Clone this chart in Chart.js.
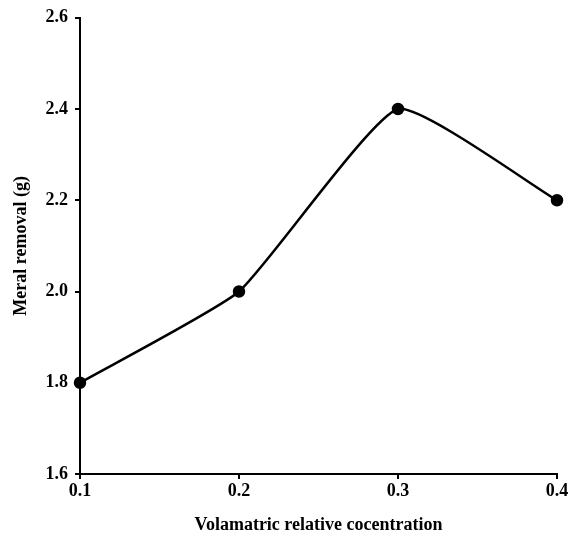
<!DOCTYPE html>
<html>
<head>
<meta charset="utf-8">
<script src="https://cdn.jsdelivr.net/npm/chart.js@4/dist/chart.umd.min.js"></script>
<style>
  html, body { margin: 0; padding: 0; background: #fff; }
  #wrap { width: 573px; height: 540px; }
</style>
</head>
<body>
<div id="wrap"><canvas id="chart-container" width="573" height="540"></canvas></div>
<script>
const concentration = [0.1, 0.2, 0.3, 0.4];
const removal = [1.8, 2.0, 2.4, 2.2];
const xTicks = [0.1, 0.2, 0.3, 0.4];
const yTicks = [1.6, 1.8, 2.0, 2.2, 2.4, 2.6];

(function () {
  const ctx = document.getElementById('chart-container').getContext('2d');
  const tickFont = { family: 'Liberation Serif', size: 18, weight: 'bold' };
  const titleFont = { family: 'Liberation Serif', size: 18, weight: 'bold' };

  new Chart(ctx, {
    type: 'line',
    data: {
      datasets: [{
        data: concentration.map((x, i) => ({ x: x, y: removal[i] })),
        borderColor: '#000',
        backgroundColor: '#000',
        borderWidth: 2.5,
        pointRadius: 5,
        tension: 0.15,
        clip: false,
        fill: false
      }]
    },
    options: {
      responsive: false,
      animation: false,
      layout: { padding: { left: 0, top: 15, right: 16, bottom: 0 } },
      plugins: { legend: { display: false }, tooltip: { enabled: false } },
      scales: {
        x: {
          type: 'linear',
          min: 0.1,
          max: 0.4,
          afterBuildTicks: s => { s.ticks = xTicks.map(v => ({ value: v })); },
          afterFit: s => { s.height = 66; },
          border: { display: true, color: '#000', width: 2 },
          grid: { drawOnChartArea: false, drawTicks: true, tickLength: 5, color: '#000', lineWidth: 2 },
          ticks: { color: '#000', font: tickFont, padding: 2, maxRotation: 0, callback: v => v.toFixed(1) },
          title: { display: true, text: 'Volamatric relative cocentration', color: '#000', font: titleFont, padding: { top: 10 } }
        },
        y: {
          min: 1.6,
          max: 2.6,
          afterBuildTicks: s => { s.ticks = yTicks.map(v => ({ value: v })); },
          afterFit: s => { s.width = 80; },
          border: { display: true, color: '#000', width: 2 },
          grid: { drawOnChartArea: false, drawTicks: true, tickLength: 5, color: '#000', lineWidth: 2 },
          ticks: { color: '#000', font: tickFont, padding: 7, callback: v => v.toFixed(1) },
          title: { display: true, text: 'Meral removal (g)', color: '#000', font: titleFont, padding: { top: 11, bottom: 4 } }
        }
      }
    }
  });
})();
</script>
</body>
</html>
